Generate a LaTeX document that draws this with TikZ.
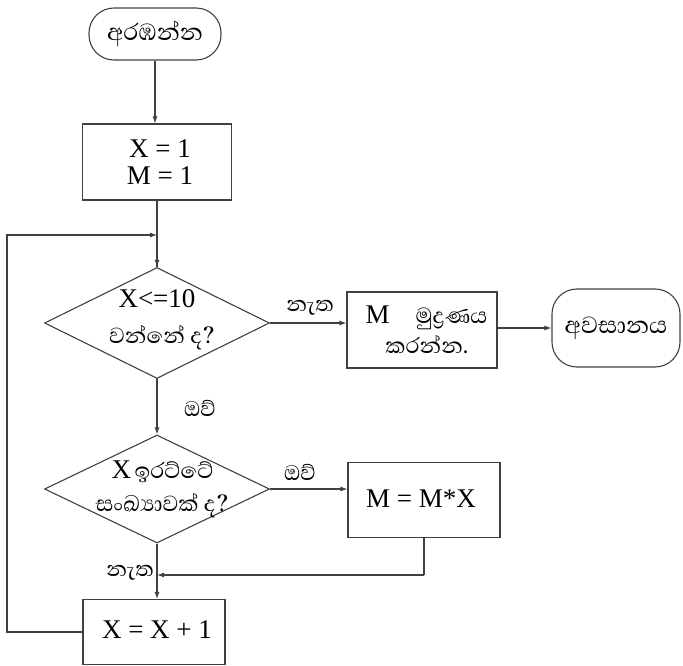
\documentclass[tikz,border=0pt]{standalone}
\usepackage{fontspec}
\setmainfont{Liberation Serif}
\newfontfamily\sinhfont[Script=Sinhala]{Abhaya Libre}
\usetikzlibrary{shapes.geometric,arrows.meta}
\begin{document}
\begin{tikzpicture}[x=1pt,y=-1pt,
  line width=1.1pt, draw=black!75,
  box/.style={draw, rectangle, inner sep=0pt},
  term/.style={draw, rectangle, rounded corners=25pt, inner sep=0pt, font=\sinhfont\fontsize{30}{32}\selectfont},
  dia/.style={draw, diamond, inner sep=0pt},
  lat/.style={inner sep=0pt, anchor=base, font=\fontsize{27}{30}\selectfont},
  sin/.style={inner sep=0pt, anchor=base, font=\sinhfont\fontsize{28}{30}\selectfont},
  lbl/.style={inner sep=0pt, font=\sinhfont\fontsize{27}{30}\selectfont},
  arr/.style={-{Latex[length=7pt,width=5pt]}}
]
\useasboundingbox (0,0) rectangle (683,666);
% shapes
\node[term, minimum width=132pt, minimum height=52pt] (start) at (155,34) {අරඹන්න};
\node[box, minimum width=149pt, minimum height=76pt] (init) at (157,162) {};
\node[dia, minimum width=225pt, minimum height=111pt] (d1) at (157,323) {};
\node[box, minimum width=150pt, minimum height=76pt] (print) at (422,330) {};
\node[term, minimum width=128pt, minimum height=78pt] (end) at (616,328) {අවසානය};
\node[dia, minimum width=225pt, minimum height=108pt] (d2) at (157,489) {};
\node[box, minimum width=152pt, minimum height=75pt] (calc) at (424,500) {};
\node[box, minimum width=142pt, minimum height=65pt] (incr) at (154,632) {};
% texts
\node[lat] (initA) at (160,158) {X = 1};
\node[lat] (initB) at (160,185) {M = 1};
\node[lat] (d1A) at (157,307) {X<=10};
\node[sin] (d1B) at (162,343) {වන්නේ ද?};
\node[lat, anchor=base west] (prA) at (365,323) {M};
\node[sin, anchor=base east] (prB) at (488,323) {මුද්‍රණය};
\node[sin] (prC) at (427,353) {කරන්න.};
\node[lat, anchor=base west] (d2A) at (111,478) {X};
\node[sin, anchor=base west] (d2B) at (134,478) {ඉරට්ටේ};
\node[sin] (d2C) at (162,511) {සංඛ්‍යාවක් ද?};
\node[lat] (calcT) at (421,507) {M = M*X};
\node[lat] (incrT) at (157,638) {X = X + 1};
% branch labels
\node[lbl] (no1) at (310,308) {නැත};
\node[lbl] (yes1) at (200,408) {ඔව්};
\node[lbl] (yes2) at (300,472) {ඔව්};
\node[lbl] (no2) at (130,573) {නැත};
% connectors
\coordinate (loopin) at (157,235);
\coordinate (join) at (157,575);
\coordinate (bl) at (7,632);
\coordinate (tl) at (7,235);
\coordinate (cr) at (424,575);
\draw[arr] (start) -- (init.north -| start);
\draw (init.south -| d1.north) -- (d1.north);
\draw[arr] (loopin) -- (d1.north);
\draw[arr] (d1.east) -- (d1.east -| print.west);
\draw[arr] (print.east |- end.west) -- (end.west);
\draw[arr] (d1.south) -- (d2.north);
\draw[arr] (d2.east) -- (d2.east -| calc.west);
\draw (calc.south) -- (cr);
\draw[arr] (cr) -- (join);
\draw[arr] (d2.south) -- (incr.north -| d2.south);
\draw[arr] (incr.west) -- (bl) -- (tl) -- (loopin);
\end{tikzpicture}
\end{document}
